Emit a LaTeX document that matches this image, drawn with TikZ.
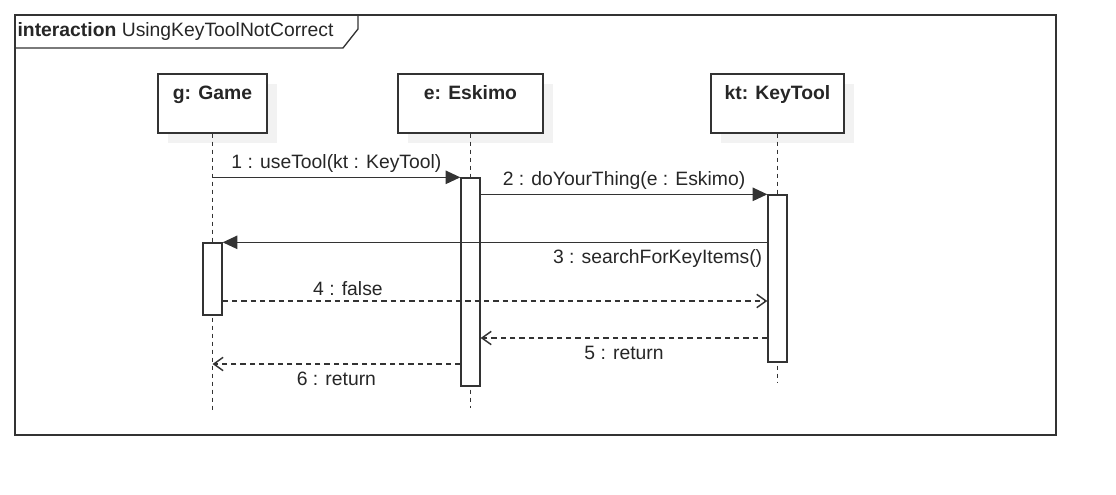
\documentclass[tikz,border=0pt]{standalone}
\usepackage{fontspec}
\setmainfont{Liberation Sans}
\usetikzlibrary{arrows.meta, positioning, shadows}
\definecolor{linegray}{HTML}{333333}
\definecolor{textgray}{HTML}{262626}
\definecolor{shadowgray}{HTML}{F2F2F2}

\begin{document}
\begin{tikzpicture}[
    x=0.75pt, y=-0.75pt,
    font=\fontsize{14.5}{17}\selectfont, text=textgray,
    frame/.style={rectangle, draw=linegray, line width=1pt, minimum width=780.75pt, minimum height=315pt, inner sep=0pt},
    lifebox/.style={rectangle, draw=linegray, fill=white, line width=1pt, inner sep=0pt, text height=19pt, text depth=25.25pt, font=\fontsize{14.5}{17}\selectfont\bfseries, general shadow={fill=shadowgray, shadow xshift=7.5pt, shadow yshift=-7.5pt}},
    actbar/.style={rectangle, draw=linegray, fill=white, line width=1pt, minimum width=14.25pt, inner sep=0pt},
    lifeline/.style={draw=linegray, line width=0.8pt, dash pattern=on 3pt off 3pt},
    call/.style={draw=linegray, line width=1.1pt, -{Triangle[length=11pt, width=10pt]}},
    reply/.style={draw=linegray, line width=1.1pt, dash pattern=on 4pt off 3pt, -{Straight Barb[length=7pt, width=10pt]}}
]
\useasboundingbox (0,0) rectangle (1116,495);

% Frame
\node[frame] (frame) at (535.5,225) {};
\node[anchor=west, inner xsep=1pt] (title) at (16,32) {\textbf{interaction} UsingKeyToolNotCorrect};
\draw[linegray, line width=1pt] (15,48) -- (343,48) -- (358,29) -- (358,15);

% Lifelines
\node[lifebox, minimum width=81.75pt] (game) at (212.5,103.5) {g: Game};
\node[lifebox, minimum width=108.75pt] (eskimo) at (470.5,103.5) {e: Eskimo};
\node[lifebox, minimum width=99.75pt] (keytool) at (777.5,103.5) {kt: KeyTool};

\coordinate (gend) at (212.5,411);
\coordinate (eend) at (470.5,408);
\coordinate (ktend) at (777.5,382);
\draw[lifeline] (game.south) -- (gend);
\draw[lifeline] (eskimo.south) -- (eend);
\draw[lifeline] (keytool.south) -- (ktend);

% Activations
\node[actbar, minimum height=54pt] (gact) at (212.5,279) {};
\node[actbar, minimum height=156pt] (eact) at (470.5,282) {};
\node[actbar, minimum height=125.25pt] (ktact) at (777.5,278.5) {};

% Messages
\coordinate (m4) at (0,301);
\coordinate (m5) at (0,338);
\coordinate (m6) at (0,364);
\draw[call] (game.south |- eact.north) -- node[above] {1 : useTool(kt : KeyTool)} (eact.north west);
\draw[call] (eact.east |- ktact.north) -- node[above] {2 : doYourThing(e : Eskimo)} (ktact.north west);
\draw[call] (ktact.west |- gact.north) -- node[pos=0, below left, yshift=-1.5pt] {3 : searchForKeyItems()} (gact.north east);
\draw[reply] (gact.east |- m4) -- node[pos=0.23, above] {4 : false} (ktact.west |- m4);
\draw[reply] (ktact.west |- m5) -- node[below, yshift=-2pt] {5 : return} (eact.east |- m5);
\draw[reply] (eact.west |- m6) -- node[below, yshift=-2pt] {6 : return} (game.south |- m6);

\end{tikzpicture}
\end{document}
